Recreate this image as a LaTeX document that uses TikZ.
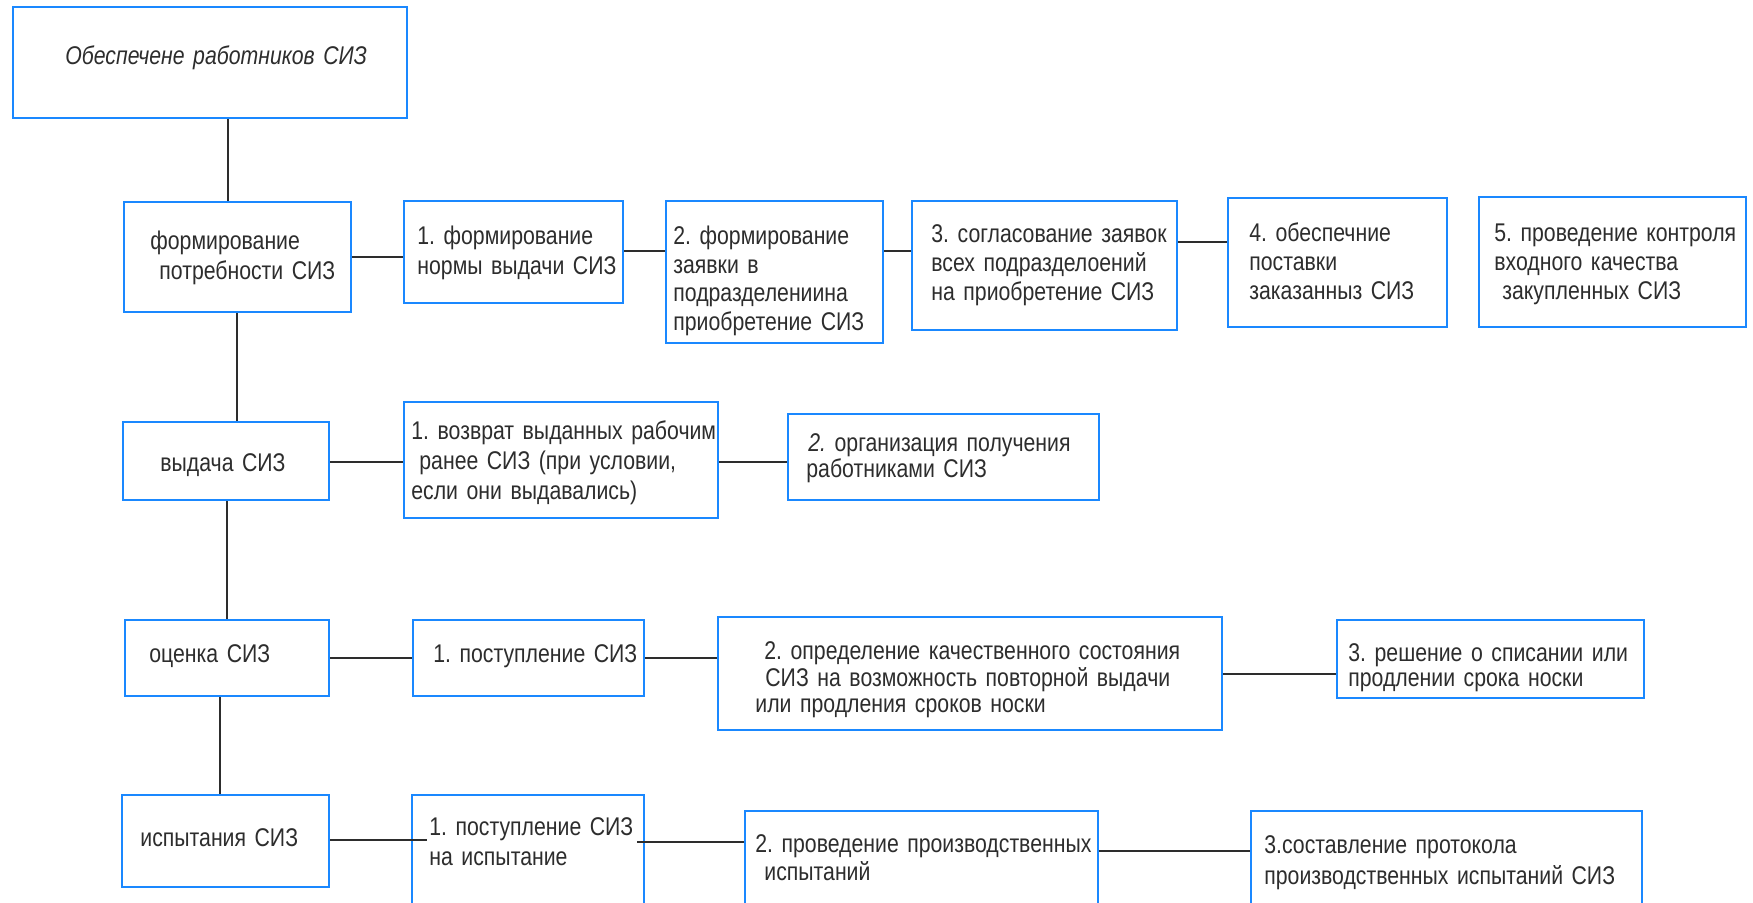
\documentclass[tikz,border=0pt]{standalone}
\usepackage{fontspec}
\setmainfont{Liberation Sans}[FakeStretch=0.83]
\usetikzlibrary{fit}
\definecolor{boxblue}{RGB}{26,136,255}
\definecolor{ink}{RGB}{45,45,45}
\frenchspacing
\begin{document}
\begin{tikzpicture}[x=0.5pt,y=-0.5pt,
  box/.style={draw=boxblue,line width=1.2pt,inner sep=0pt},
  lbl/.style={anchor=base west,inner sep=0pt,align=left,text width=260pt,text=ink,font=\fontsize{12.8}{#1}\selectfont\frenchspacing},
  lbl/.default=14.3pt,
  link/.style={draw=ink,line width=0.9pt}]
\useasboundingbox (0,0) rectangle (1753,903);
\fill[white] (0,0) rectangle (1753,903);
\clip (0,0) rectangle (1753,903);
% boxes
\node[box,fit={(13,7)(407,118)}] (top) {};
\node[box,fit={(124,202)(351,312)}] (A1) {};
\node[box,fit={(404,201)(623,303)}] (B1) {};
\node[box,fit={(666,201)(883,343)}] (B2) {};
\node[box,fit={(912,201)(1177,330)}] (B3) {};
\node[box,fit={(1228,198)(1447,327)}] (B4) {};
\node[box,fit={(1479,197)(1746,327)}] (B5) {};
\node[box,fit={(123,422)(329,500)}] (A2) {};
\node[box,fit={(404,402)(718,518)}] (C1) {};
\node[box,fit={(788,414)(1099,500)}] (C2) {};
\node[box,fit={(125,620)(329,696)}] (A3) {};
\node[box,fit={(413,620)(644,696)}] (D1) {};
\node[box,fit={(718,617)(1222,730)}] (D2) {};
\node[box,fit={(1337,620)(1644,698)}] (D3) {};
\node[box,fit={(122,795)(329,887)}] (A4) {};
\node[box,fit={(412,795)(644,940)}] (E1) {};
\node[box,fit={(745,811)(1098,940)}] (E2) {};
\node[box,fit={(1251,811)(1642,940)}] (E3) {};
% texts
\node[lbl,font=\fontsize{12.8}{14.3pt}\selectfont\itshape] (topt) at (65,65) {Обеспечене работников СИЗ};
\node[lbl=15pt] (A1t) at (150,250) {формирование\\\hspace*{4.5pt}потребности СИЗ};
\node[lbl=15pt] (B1t) at (417,245) {1. формирование\\нормы выдачи СИЗ};
\node[lbl=14.2pt] (B2t) at (673,245) {2. формирование\\заявки в\\подразделениина\\приобретение СИЗ};
\node[lbl=14.3pt] (B3t) at (931,243) {3. согласование заявок\\всех подразделоений\\на приобретение СИЗ};
\node[lbl=14.5pt] (B4t) at (1249,242) {4. обеспечние\\поставки\\заказанныз СИЗ};
\node[lbl=14.5pt] (B5t) at (1494,242) {5. проведение контроля\\входного качества\\\hspace*{4pt}закупленных СИЗ};
\node[lbl] (A2t) at (160,472) {выдача СИЗ};
\node[lbl=14.8pt] (C1t) at (411,440) {1. возврат выданных рабочим\\\hspace*{4pt}ранее СИЗ (при условии,\\если они выдавались)};
\node[lbl=13pt] (C2t) at (806,452) {\hspace*{1pt}\textit{2.} организация получения\\работниками СИЗ};
\node[lbl] (A3t) at (149,663) {оценка СИЗ};
\node[lbl] (D1t) at (433,663) {1. поступление СИЗ};
\node[lbl=13.2pt] (D2t) at (755,660) {\hspace*{4.5pt}2. определение качественного состояния\\\hspace*{5pt}СИЗ на возможность повторной выдачи\\или продления сроков носки};
\node[lbl=12.5pt] (D3t) at (1348,662) {3. решение о списании или\\продлении срока носки};
\node[lbl] (A4t) at (140,847) {испытания СИЗ};
\node[lbl=15pt] (E1t) at (429,835) {1. поступление СИЗ\\на испытание};
\node[lbl=14pt] (E2t) at (755,852) {2. проведение производственных\\\hspace*{4.5pt}испытаний};
\node[lbl=16pt] (E3t) at (1264,853) {3.составление протокола\\производственных испытаний СИЗ};
% helper coordinates
\coordinate (v1) at (228,0);
\coordinate (v2) at (237,0);
\coordinate (v3) at (227,0);
\coordinate (v4) at (220,0);
\coordinate (h1) at (0,257);
\coordinate (h2) at (0,251);
\coordinate (h3) at (0,242);
\coordinate (h4) at (0,462);
\coordinate (h5) at (0,658);
\coordinate (h6) at (0,674);
\coordinate (h7) at (0,840);
\coordinate (h8) at (0,842);
\coordinate (h9) at (0,851);
\path (E1.west) ++(16,0) coordinate (e1in);
\path (E1.east) ++(-8,0) coordinate (e1out);
% connectors
\draw[link] (top.south -| v1) -- (A1.north -| v1);
\draw[link] (A1.south -| v2) -- (A2.north -| v2);
\draw[link] (A2.south -| v3) -- (A3.north -| v3);
\draw[link] (A3.south -| v4) -- (A4.north -| v4);
\draw[link] (A1.east |- h1) -- (B1.west |- h1);
\draw[link] (B1.east |- h2) -- (B2.west |- h2);
\draw[link] (B2.east |- h2) -- (B3.west |- h2);
\draw[link] (B3.east |- h3) -- (B4.west |- h3);
\draw[link] (A2.east |- h4) -- (C1.west |- h4);
\draw[link] (C1.east |- h4) -- (C2.west |- h4);
\draw[link] (A3.east |- h5) -- (D1.west |- h5);
\draw[link] (D1.east |- h5) -- (D2.west |- h5);
\draw[link] (D2.east |- h6) -- (D3.west |- h6);
\draw[link] (A4.east |- h7) -- (e1in |- h7);
\draw[link] (e1out |- h8) -- (E2.west |- h8);
\draw[link] (E2.east |- h9) -- (E3.west |- h9);
\end{tikzpicture}
\end{document}
